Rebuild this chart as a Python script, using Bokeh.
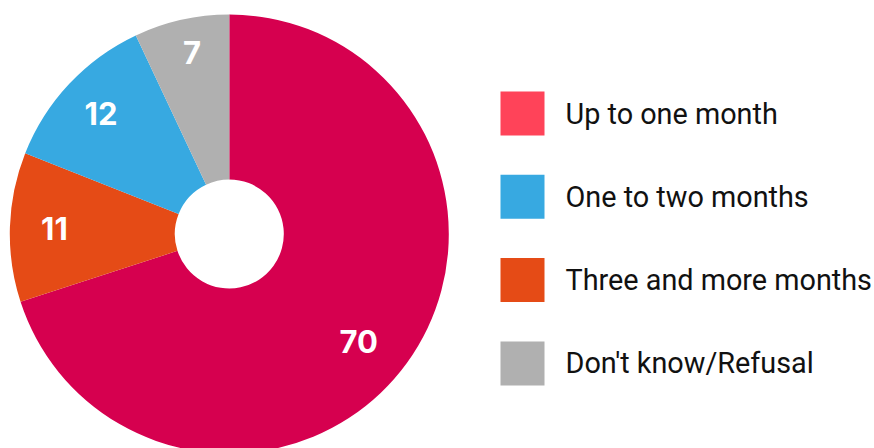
import math
from bokeh.plotting import figure
from bokeh.models import Range1d, ColumnDataSource
from bokeh.core.properties import value
from bokeh.embed import file_html
from bokeh.resources import INLINE

categories = ["Up to one month", "Three and more months", "One to two months", "Don't know/Refusal"]
values = [70, 11, 12, 7]
slice_colors = ["#D6004F", "#E54B16", "#37A9E1", "#B0B0B0"]

legend_labels = ["Up to one month", "One to two months", "Three and more months", "Don't know/Refusal"]
legend_colors = ["#FF4359", "#37A9E1", "#E54B16", "#B0B0B0"]

W, H = 874, 448
cx, cy = 228.8, H - 233.5
R_out, R_in = 219.5, 54.5
# label placement (layout): radius and angular nudge (degrees) per slice
label_r = [168, 175, 176, 185]
label_nudge = [-3.6, 0, 0, -1]

p = figure(width=W, height=H, output_backend="svg", toolbar_location=None,
           x_range=Range1d(0, W), y_range=Range1d(0, H), min_border=0,
           outline_line_color=None, background_fill_color="white")
p.axis.visible = False
p.grid.visible = False

total = sum(values)
starts, ends, lx, ly = [], [], [], []
cur = math.pi / 2  # start at top, go clockwise
for i, v in enumerate(values):
    sweep = 2 * math.pi * v / total
    end = cur
    start = cur - sweep
    starts.append(start)
    ends.append(end)
    mid = (start + end) / 2 + math.radians(label_nudge[i])
    lx.append(cx + label_r[i] * math.cos(mid))
    ly.append(cy + label_r[i] * math.sin(mid))
    cur = start

src = ColumnDataSource(dict(start=starts, end=ends, color=slice_colors,
                            x=[cx] * len(values), y=[cy] * len(values),
                            lx=lx, ly=ly, txt=[str(v) for v in values]))
p.annular_wedge(x="x", y="y", inner_radius=R_in, outer_radius=R_out,
                start_angle="start", end_angle="end", fill_color="color",
                line_color=None, source=src)
p.text(x="lx", y="ly", text="txt", source=src, text_color="white",
       text_font=value("Inter"), text_font_style="bold", text_font_size="31px",
       text_align="center", text_baseline="middle")

# legend
n = len(legend_labels)
sw_x, sw_size = 522, 44
row0, step = H - 113, 83.3
lys = [row0 - i * step for i in range(n)]
lsrc = ColumnDataSource(dict(x=[sw_x] * n, y=lys, color=legend_colors,
                             tx=[565] * n, label=legend_labels))
p.rect(x="x", y="y", width=sw_size, height=sw_size, fill_color="color",
       line_color=None, source=lsrc)
p.text(x="tx", y="y", text="label", source=lsrc, text_color="#111111",
       text_font=value("Roboto"), text_font_size="28.8px",
       text_align="left", text_baseline="middle")

open("out.html", "w").write(file_html(p, INLINE))
